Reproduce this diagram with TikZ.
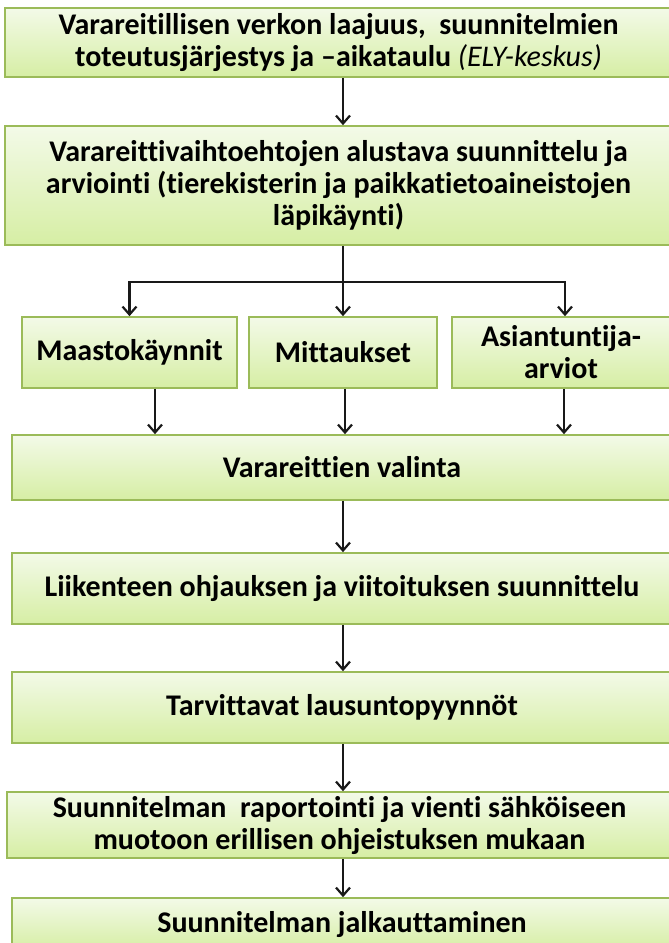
\documentclass[tikz,border=0pt]{standalone}
\usepackage{fontspec}
\setmainfont{Carlito}[Ligatures=NoCommon]
\usetikzlibrary{arrows.meta,positioning}
\definecolor{Olive}{HTML}{9BBB59}
\definecolor{LimeTop}{HTML}{F3FAE8}
\definecolor{LimeBot}{HTML}{D6EEA4}
\begin{document}
\begin{tikzpicture}[
  x=1pt,y=-1pt,>={Straight Barb[length=8pt,width=14pt]},
  stage/.style={draw=Olive,line width=1.6pt,top color=LimeTop,bottom color=LimeBot,
    minimum width=667pt,minimum height=69pt,inner sep=0pt,align=center,
    font=\fontsize{30}{32}\selectfont\bfseries},
  sub/.style={stage,minimum width=215pt,minimum height=71pt},
  flow/.style={->,line width=2.2pt,draw=black!90},
  link/.style={line width=2.2pt,draw=black!90}
]
\clip (0,0) rectangle (669,943);
\coordinate (axis) at (343,0);
\node[stage] (verkko) at (338.5,42.5) {Varareitillisen verkon laajuus,\ \ suunnitelmien\\
  toteutusjärjestys ja –aikataulu {\mdseries\itshape (ELY-keskus)}};
\node[stage,minimum height=119pt,inner ysep=5pt,text depth=5pt] (alusta) at (338.5,185.5) {Varareittivaihtoehtojen alustava suunnittelu ja\\
  arviointi (tierekisterin ja paikkatietoaineistojen\\ läpikäynti)};
\draw[flow] (verkko.south -| axis)--(alusta.north -| axis);
% three parallel checks below the fork
\node[sub] (maasto) at (129.5,352.5) {Maastokäynnit};
\node[sub,minimum width=188pt] (mittaus) at (343,352.5) {Mittaukset};
\node[sub,minimum width=218pt] (asiant) at (561,352.5) {Asiantuntija-\\arviot};
\coordinate (fork) at (343,282);
\draw[link] (alusta.south -| axis)--(fork);
\draw[flow] (fork)-|(maasto.north);
\draw[flow] (fork)--(mittaus.north);
\draw[flow] (fork)-|([xshift=4pt]asiant.north);
\node[stage,minimum width=660pt,minimum height=65pt] (valinta) at (342,467.5) {Varareittien valinta};
\draw[flow] ([xshift=25.5pt]maasto.south)--([xshift=25.5pt]maasto.south |- valinta.north);
\draw[flow] ([xshift=2pt]mittaus.south)--([xshift=2pt]mittaus.south |- valinta.north);
\draw[flow] ([xshift=3pt]asiant.south)--([xshift=3pt]asiant.south |- valinta.north);
\node[stage,minimum width=660pt,minimum height=71pt] (ohjaus) at (342,588.5) {Liikenteen ohjauksen ja viitoituksen suunnittelu};
\draw[flow] (valinta.south -| axis)--(ohjaus.north -| axis);
\node[stage,minimum width=660pt,minimum height=71pt] (lausunto) at (342,707.5) {Tarvittavat lausuntopyynnöt};
\draw[flow] (ohjaus.south -| axis)--(lausunto.north -| axis);
\node[stage,minimum width=665pt,minimum height=66pt] (raportti) at (339.5,825) {Suunnitelman\ \ raportointi ja vienti sähköiseen\\
  muotoon erillisen ohjeistuksen mukaan};
\draw[flow] (lausunto.south -| axis)--(raportti.north -| axis);
\node[stage,minimum width=660pt,minimum height=52pt] (jalkautus) at (342,924) {Suunnitelman jalkauttaminen};
\draw[flow] (raportti.south -| axis)--(jalkautus.north -| axis);
\end{tikzpicture}
\end{document}
